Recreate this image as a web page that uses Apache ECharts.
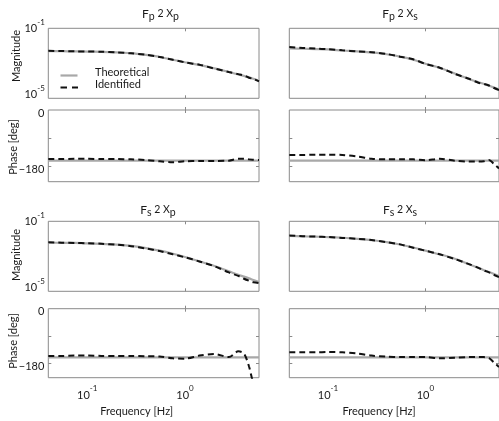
<!DOCTYPE html>
<html>
<head>
<meta charset="utf-8">
<script src="https://cdn.jsdelivr.net/npm/echarts@6/dist/echarts.min.js"></script>
<style>
  html, body { margin: 0; padding: 0; background: #fff; }
  #c { width: 499px; height: 421px; }
</style>
</head>
<body>
<div id="c"></div>
<script>
// Frequency points shared by every curve [Hz]
const freqHz = [0.04, 0.055, 0.075, 0.1, 0.14, 0.2, 0.28, 0.4, 0.55, 0.75, 1.0, 1.4, 2.0, 2.8, 3.5, 4.0, 4.5, 5.0, 5.7];

// Fp -> Xp
const magTheoPP  = [5.0e-3, 4.9e-3, 4.8e-3, 4.7e-3, 4.5e-3, 4.2e-3, 3.8e-3, 3.0e-3, 2.3e-3, 1.6e-3, 1.15e-3, 8.1e-4, 5.1e-4, 3.2e-4, 2.3e-4, 1.9e-4, 1.6e-4, 1.3e-4, 9.8e-5];
const magIdentPP = [5.2e-3, 5.0e-3, 4.8e-3, 4.7e-3, 4.6e-3, 4.2e-3, 3.7e-3, 3.1e-3, 2.3e-3, 1.6e-3, 1.12e-3, 8.3e-4, 5.0e-4, 3.2e-4, 2.4e-4, 2.0e-4, 1.5e-4, 1.26e-4, 9.3e-5];
const phTheoPP   = [-161, -161, -161, -161, -161, -161, -161, -161, -161, -161, -161, -161, -161, -161, -161, -161, -161, -161, -161];
const phIdentPP  = [-156, -156, -155, -155, -156, -156, -157, -159, -163, -166, -163, -162, -162, -161, -155, -155, -157, -158, -159];

// Fp -> Xs
const magTheoPS  = [7.1e-3, 6.8e-3, 6.5e-3, 6.2e-3, 5.4e-3, 4.8e-3, 4.2e-3, 3.3e-3, 2.4e-3, 1.6e-3, 9.5e-4, 5.6e-4, 2.6e-4, 1.26e-4, 8.3e-5, 6.6e-5, 5.2e-5, 4.2e-5, 3.2e-5];
const magIdentPS = [8.5e-3, 7.6e-3, 6.9e-3, 6.4e-3, 5.5e-3, 4.8e-3, 4.3e-3, 3.4e-3, 2.4e-3, 1.7e-3, 9.3e-4, 5.6e-4, 2.5e-4, 1.3e-4, 7.8e-5, 6.6e-5, 5.4e-5, 4.0e-5, 3.0e-5];
const phTheoPS   = [-161, -161, -161, -161, -161, -161, -161, -161, -161, -161, -161, -161, -161, -161, -161, -161, -161, -161, -161];
const phIdentPS  = [-143, -143, -142, -142, -143, -148, -155, -157, -157, -157, -160, -155, -161, -164, -164, -163, -159, -170, -186];

// Fs -> Xp
const magTheoSP  = [6.0e-3, 5.9e-3, 5.8e-3, 5.5e-3, 5.1e-3, 4.7e-3, 3.9e-3, 2.95e-3, 2.1e-3, 1.4e-3, 9.1e-4, 5.2e-4, 2.8e-4, 1.4e-4, 8.7e-5, 6.9e-5, 5.5e-5, 4.4e-5, 3.4e-5];
const magIdentSP = [6.3e-3, 6.0e-3, 5.8e-3, 5.6e-3, 5.2e-3, 4.6e-3, 3.8e-3, 2.8e-3, 2.0e-3, 1.3e-3, 8.7e-4, 5.1e-4, 2.7e-4, 1.2e-4, 7.6e-5, 5.2e-5, 4.0e-5, 3.3e-5, 3.0e-5];
const phTheoSP   = [-161, -161, -161, -161, -161, -161, -161, -161, -161, -161, -161, -161, -161, -161, -161, -161, -161, -161, -161];
const phIdentSP  = [-156, -156, -155, -155, -156, -156, -156, -157, -158, -164, -165, -155, -150, -160, -141, -148, -190, -245, -270];

// Fs -> Xs
const magTheoSS  = [1.45e-2, 1.38e-2, 1.32e-2, 1.26e-2, 1.15e-2, 1.0e-2, 8.3e-3, 6.5e-3, 4.7e-3, 3.2e-3, 2.1e-3, 1.3e-3, 7.2e-4, 3.5e-4, 2.2e-4, 1.6e-4, 1.26e-4, 1.0e-4, 7.4e-5];
const magIdentSS = [1.55e-2, 1.42e-2, 1.33e-2, 1.27e-2, 1.12e-2, 1.0e-2, 8.5e-3, 6.4e-3, 4.8e-3, 3.1e-3, 2.1e-3, 1.3e-3, 7.0e-4, 3.6e-4, 2.2e-4, 1.55e-4, 1.2e-4, 9.0e-5, 6.5e-5];
const phTheoSS   = [-161, -161, -161, -161, -161, -161, -161, -161, -161, -161, -161, -161, -161, -161, -161, -161, -161, -161, -161];
const phIdentSS  = [-144, -144, -144, -143, -144, -148, -155, -158, -160, -160, -160, -164, -162, -160, -160, -160, -163, -176, -193];

// Axis settings
const freqRange = [0.04, 5.7];
const magRange = [1e-5, 1e-1];
const phaseRange = [-228, 0];
const freqTicks = [1];
const freqLabels = [0.1, 1];
const magLabels = [1e-1, 1e-5];
const phaseTicks = [-90, -180];
const phaseLabels = [0, -180];

const FONT = 'Lato, "Noto Sans", sans-serif';
const TXT = '#1a1a1a';
const FRAME = '#8a8a8a';
const THEO = '#a8a8a8';
const IDENT = '#111111';

const panels = [
  { sub: ['p', 'p'], magT: magTheoPP, magI: magIdentPP, phT: phTheoPP, phI: phIdentPP },
  { sub: ['p', 's'], magT: magTheoPS, magI: magIdentPS, phT: phTheoPS, phI: phIdentPS },
  { sub: ['s', 'p'], magT: magTheoSP, magI: magIdentSP, phT: phTheoSP, phI: phIdentSP },
  { sub: ['s', 's'], magT: magTheoSS, magI: magIdentSS, phT: phTheoSS, phI: phIdentSS }
];

// Layout of the 2x2 panel block (each panel = magnitude box over phase box)
const colLeft = [48.3, 289.3];
const boxW = 210.7;
const rowBoxes = [
  { mag: [28.3, 70], ph: [110, 71.7] },
  { mag: [221.3, 70], ph: [308.7, 69] }
];

const powRich = {
  b: { fontSize: 11, lineHeight: 11, padding: [5, 0, 0, 0], verticalAlign: 'top', fontFamily: FONT, color: TXT, fill: TXT },
  s: { fontSize: 8, lineHeight: 8, verticalAlign: 'top', fontFamily: FONT, color: TXT, fill: TXT }
};
function powLabel(v) {
  const e = Math.round(Math.log10(v));
  return '{b|10}{s|' + (e < 0 ? '-' : '') + Math.abs(e) + '}';
}
// phase tick labels sit a little below their ticks
const phaseRich = {
  t: { fontSize: 11, lineHeight: 11, padding: [3, 0, 0, 0], verticalAlign: 'top', fontFamily: FONT, color: TXT }
};
function phaseLabel(v) {
  return '{t|' + (v < 0 ? '\u2212' + Math.abs(v) : String(v)) + '}';
}

const grids = [], xAxes = [], yAxes = [], series = [];
const magYAxisLeft = []; // y-axis indices of the left-column magnitude boxes

panels.forEach((p, i) => {
  const col = i % 2, row = Math.floor(i / 2);
  const boxes = [rowBoxes[row].mag, rowBoxes[row].ph];
  boxes.forEach((b, k) => {
    const g = grids.length;
    grids.push({
      left: colLeft[col], top: b[0], width: boxW, height: b[1],
      show: true, borderColor: FRAME, borderWidth: 1, backgroundColor: 'transparent'
    });
    const isPhase = k === 1;
    const showXLabels = isPhase && row === 1;
    // bottom and top frequency axes (top one only carries inward ticks)
    ['bottom', 'top'].forEach(pos => {
      xAxes.push({
        type: 'log', logBase: 10, gridIndex: g, position: pos,
        min: freqRange[0], max: freqRange[1],
        axisLine: { show: false },
        splitLine: { show: false },
        axisTick: { show: true, inside: true, length: 3, customValues: freqTicks, lineStyle: { color: FRAME } },
        axisLabel: pos === 'bottom' && showXLabels
          ? { show: true, customValues: freqLabels, formatter: powLabel, rich: powRich, margin: 7 }
          : { show: false }
      });
    });
    if (!isPhase) {
      yAxes.push({
        type: 'log', logBase: 10, gridIndex: g, min: magRange[0], max: magRange[1],
        axisLine: { show: false }, splitLine: { show: false }, axisTick: { show: false },
        axisLabel: { show: false }
      });
      if (col === 0) magYAxisLeft.push(yAxes.length - 1);
      series.push({
        type: 'line', xAxisIndex: 2 * g, yAxisIndex: yAxes.length - 1, symbol: 'none', smooth: 0.3,
        lineStyle: { color: THEO, width: 2.2 }, data: freqHz.map((f, j) => [f, p.magT[j]]), silent: true
      });
      series.push({
        type: 'line', xAxisIndex: 2 * g, yAxisIndex: yAxes.length - 1, symbol: 'none', smooth: 0.3,
        lineStyle: { color: IDENT, width: 2, type: [6, 4] }, data: freqHz.map((f, j) => [f, p.magI[j]]), silent: true
      });
    } else {
      ['left', 'right'].forEach(pos => {
        yAxes.push({
          type: 'value', gridIndex: g, position: pos, min: phaseRange[0], max: phaseRange[1],
          axisLine: { show: false }, splitLine: { show: false },
          axisTick: { show: true, inside: true, length: 3, customValues: phaseTicks, lineStyle: { color: FRAME } },
          axisLabel: pos === 'left' && col === 0
            ? { show: true, customValues: phaseLabels, margin: 4, formatter: phaseLabel, rich: phaseRich }
            : { show: false }
        });
      });
      const yi = yAxes.length - 2;
      series.push({
        type: 'line', xAxisIndex: 2 * g, yAxisIndex: yi, symbol: 'none',
        lineStyle: { color: THEO, width: 2.2 }, data: freqHz.map((f, j) => [f, p.phT[j]]), silent: true
      });
      series.push({
        type: 'line', xAxisIndex: 2 * g, yAxisIndex: yi, symbol: 'none', smooth: 0.3,
        lineStyle: { color: IDENT, width: 2, type: [6, 4] }, data: freqHz.map((f, j) => [f, p.phI[j]]), silent: true
      });
    }
  });
});

// Panel titles  F_a 2 X_b
const titleRich = {
  F: { fontSize: 12, lineHeight: 12, verticalAlign: 'top', fontFamily: FONT, fill: TXT },
  n: { fontSize: 10.5, lineHeight: 12, verticalAlign: 'top', fontFamily: FONT, fill: TXT },
  s: { fontSize: 10.5, lineHeight: 12, padding: [3, 0, 0, 0], verticalAlign: 'top', fontFamily: FONT, fill: TXT }
};
const titlePos = [[160.5, 14.5], [400, 14.5], [158, 210.5], [400, 210.5]];
const graphics = [];
panels.forEach((p, i) => {
  graphics.push({
    type: 'text', x: titlePos[i][0], y: titlePos[i][1],
    style: {
      text: '{F|F}{s|' + p.sub[0] + '}{n| 2 X}{s|' + p.sub[1] + '}',
      rich: titleRich, align: 'center', verticalAlign: 'middle'
    }
  });
});

// Axis names
const axisNameStyle = { fontSize: 11, fontFamily: FONT, fill: TXT, align: 'center', verticalAlign: 'middle' };
[[16, 56, 'Magnitude'], [13.5, 147, 'Phase [deg]'], [16, 255, 'Magnitude'], [13.5, 341, 'Phase [deg]']].forEach(a => {
  graphics.push({ type: 'text', x: a[0], y: a[1], rotation: Math.PI / 2,
    style: Object.assign({ text: a[2] }, axisNameStyle) });
});
[[136.7, 411], [379, 411]].forEach(a => {
  graphics.push({ type: 'text', x: a[0], y: a[1], style: Object.assign({ text: 'Frequency [Hz]' }, axisNameStyle) });
});

// Legend in the first magnitude box
graphics.push({ type: 'line', shape: { x1: 60.5, y1: 75.5, x2: 77.5, y2: 75.5 }, style: { stroke: THEO, lineWidth: 2.2 } });
graphics.push({ type: 'line', shape: { x1: 60.5, y1: 87.5, x2: 78, y2: 87.5 }, style: { stroke: IDENT, lineWidth: 2, lineDash: [6.5, 5] } });
graphics.push({ type: 'text', x: 95, y: 72.5, style: { text: 'Theoretical', fontSize: 11, fontFamily: FONT, fill: TXT, align: 'left', verticalAlign: 'middle' } });
graphics.push({ type: 'text', x: 95, y: 84.5, style: { text: 'Identified', fontSize: 11, fontFamily: FONT, fill: TXT, align: 'left', verticalAlign: 'middle' } });

const chart = echarts.init(document.getElementById('c'));
chart.setOption({
  animation: false,
  backgroundColor: '#ffffff',
  textStyle: { fontFamily: FONT },
  grid: grids,
  xAxis: xAxes,
  yAxis: yAxes,
  series: series,
  graphic: graphics
});

// Power-of-ten magnitude tick labels, placed at the log axis positions
const magLabelShift = { '0.1': -4.5, '0.00001': -8.5 };
const magTexts = [];
magYAxisLeft.forEach(yi => {
  magLabels.forEach(v => {
    const py = chart.convertToPixel({ yAxisIndex: yi }, v);
    magTexts.push({
      type: 'text', x: colLeft[0] - 3.5, y: py + magLabelShift[String(v)],
      style: { text: powLabel(v), rich: powRich, align: 'right', verticalAlign: 'middle' }
    });
  });
});
chart.setOption({ graphic: graphics.concat(magTexts) });
</script>
</body>
</html>
